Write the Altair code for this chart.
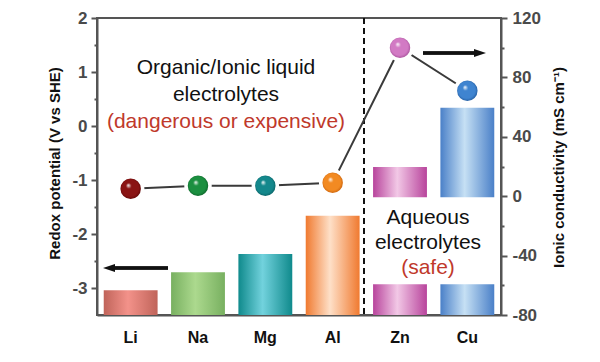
import altair as alt
import pandas as pd

# ---------------- data ----------------
metals = ["Li", "Na", "Mg", "Al", "Zn", "Cu"]
redox = [-3.04, -2.71, -2.37, -1.66, -0.76, 0.34]          # V vs SHE
conductivity = [5, 7, 7, 9, 100, 71]                        # mS cm-1
aqueous = [False, False, False, False, True, True]
axis_floor = -3.5
break_low, break_high = -2.93, -1.32                         # broken-bar gap (V)

bar_edge = ["#c0645a", "#78b060", "#0f8a8c", "#f07a30", "#b8449c", "#4a80c8"]
bar_mid = ["#f3928a", "#acd98e", "#72d2dd", "#fee0c8", "#f2c8e6", "#c6e0f4"]
ball_base = ["#8a1414", "#1b8f40", "#14888c", "#f28a22", "#d27ac4", "#3f84d0"]
ball_dark = ["#5a0606", "#0c5a26", "#0a5a5e", "#c25a08", "#a04a94", "#1f5596"]

FONT = "Liberation Sans"

# segments for (possibly broken) bars
seg_rows = []
for m, v, aq in zip(metals, redox, aqueous):
    if aq:
        seg_rows.append({"metal": m, "lo": axis_floor, "hi": break_low})
        seg_rows.append({"metal": m, "lo": break_high, "hi": v})
    else:
        seg_rows.append({"metal": m, "lo": axis_floor, "hi": v})
seg_df = pd.DataFrame(seg_rows)
pt_df = pd.DataFrame({"metal": metals, "cond": conductivity})

xenc = alt.X(
    "metal:N", sort=metals,
    scale=alt.Scale(paddingInner=0.2, paddingOuter=0.1),
    axis=alt.Axis(title=None, labelAngle=0, ticks=False, labelPadding=14,
                  labelFont=FONT, labelFontSize=16, labelFontWeight="bold",
                  labelColor="#111111", domainColor="#555555", domainWidth=2),
)

left_axis = alt.Axis(
    values=[-3, -2.5, -2, -1.5, -1, -0.5, 0, 0.5, 1, 1.5, 2],
    labelExpr="datum.value % 1 === 0 ? '' + datum.value : ''",
    tickSize={"condition": {"test": "datum.value % 1 !== 0", "value": 3}, "value": 6},
    tickColor="#555555", tickWidth=2, labelPadding=4,
    labelFont=FONT, labelFontSize=17, labelFontWeight="bold", labelColor="#4a4a4a",
    domainColor="#555555", domainWidth=2, grid=False,
    title="Redox potential (V vs SHE)", titleFont=FONT, titleFontSize=15,
    titleFontWeight="bold", titleColor="#111111", titleAngle=270,
    titleX=-43, titleY=145, titleAlign="center", titleBaseline="middle",
)
yleft = alt.Y("lo:Q", scale=alt.Scale(domain=[axis_floor, 2], nice=False, zero=False),
              axis=left_axis)

bar_layers = []
for m, e, c in zip(metals, bar_edge, bar_mid):
    grad = alt.LinearGradient(
        gradient="linear", x1=0, x2=1, y1=0, y2=0,
        stops=[alt.GradientStop(offset=0, color=e),
               alt.GradientStop(offset=0.45, color=c),
               alt.GradientStop(offset=1, color=e)])
    bar_layers.append(
        alt.Chart(seg_df).transform_filter(alt.datum.metal == m)
        .mark_bar(fill=grad, cornerRadius=0)
        .encode(x=xenc, y=yleft, y2="hi:Q")
    )

divider = alt.Chart(seg_df).mark_rule(color="#111111", strokeWidth=2, strokeDash=[6, 4]).encode(
    x=alt.value(267), y=alt.value(0), y2=alt.value(297))

larrow = alt.Chart(seg_df).mark_rule(color="#111111", strokeWidth=2.5).encode(
    x=alt.value(14), x2=alt.value(71), y=alt.value(250))
lhead = alt.Chart(pd.DataFrame({"a": [0]})).mark_point(
    shape="M-1,0L1,-0.65L1,0.65Z", filled=True, color="#111111", opacity=1, size=144
).encode(x=alt.value(12), y=alt.value(250))
rarrow = alt.Chart(seg_df).mark_rule(color="#111111", strokeWidth=2.5).encode(
    x=alt.value(326), x2=alt.value(381), y=alt.value(35))
rhead = alt.Chart(pd.DataFrame({"a": [0]})).mark_point(
    shape="M1,0L-1,-0.65L-1,0.65Z", filled=True, color="#111111", opacity=1, size=144
).encode(x=alt.value(383), y=alt.value(35))


def label(txt, x, y, color="#111111"):
    return alt.Chart(pd.DataFrame({"t": [txt]})).mark_text(
        font=FONT, fontSize=21, color=color, align="center", baseline="middle"
    ).encode(text="t:N", x=alt.value(x), y=alt.value(y))


texts = [
    label("Organic/Ionic liquid", 129, 50),
    label("electrolytes", 129, 77),
    label("(dangerous or expensive)", 129, 104, "#c0392b"),
    label("Aqueous", 331, 200),
    label("electrolytes", 331, 225),
    label("(safe)", 331, 250, "#c0392b"),
]

left_group = alt.layer(*bar_layers, divider, larrow, lhead, rarrow, rhead, *texts)

right_axis = alt.Axis(
    orient="right",
    values=[-80, -60, -40, -20, 0, 20, 40, 60, 80, 100, 120],
    labelExpr="datum.value % 40 === 0 ? '' + datum.value : ''",
    tickSize={"condition": {"test": "datum.value % 40 !== 0", "value": 3}, "value": 6},
    tickColor="#555555", tickWidth=2, labelPadding=5,
    labelFont=FONT, labelFontSize=17, labelFontWeight="bold", labelColor="#4a4a4a",
    domainColor="#555555", domainWidth=2, grid=False,
    title="Ionic conductivity (mS cm⁻¹)", titleFont=FONT, titleFontSize=15,
    titleFontWeight="bold", titleColor="#111111", titleAngle=270,
    titleX=57, titleY=149, titleAlign="center", titleBaseline="middle",
)
yright = alt.Y("cond:Q", scale=alt.Scale(domain=[-80, 120], nice=False, zero=False),
               axis=right_axis)

cline = alt.Chart(pt_df).mark_line(color="#3a3a3a", strokeWidth=2).encode(x=xenc, y=yright)


def ball_fill(b, d):
    return alt.RadialGradient(
        gradient="radial", x1=0.38, y1=0.32, r1=0, x2=0.5, y2=0.5, r2=0.55,
        stops=[alt.GradientStop(offset=0, color="#ffffff"),
               alt.GradientStop(offset=0.25, color=b),
               alt.GradientStop(offset=0.75, color=b),
               alt.GradientStop(offset=1, color=d)])


halos = []
balls = []
for m, b, d in zip(metals, ball_base, ball_dark):
    halos.append(
        alt.Chart(pt_df).transform_filter(alt.datum.metal == m)
        .mark_point(shape="circle", filled=True, fill="#ffffff", opacity=1, size=420,
                    stroke="#ffffff", strokeWidth=7, strokeOpacity=1)
        .encode(x=xenc, y=yright)
    )
    balls.append(
        alt.Chart(pt_df).transform_filter(alt.datum.metal == m)
        .mark_point(shape="circle", filled=True, fill=ball_fill(b, d), opacity=1,
                    size=420, strokeWidth=0)
        .encode(x=xenc, y=yright)
    )

right_group = alt.layer(cline, *halos, *balls)

chart = (
    alt.layer(left_group, right_group)
    .resolve_scale(y="independent")
    .properties(width=404, height=297,
                autosize=alt.AutoSizeParams(type="none"),
                padding={"left": 89, "top": 10, "right": 91, "bottom": 39},
                background="#ffffff")
    .configure_view(stroke="#555555", strokeWidth=2)
)

chart.save("out.html", embed_options={"renderer": "svg", "actions": False})
